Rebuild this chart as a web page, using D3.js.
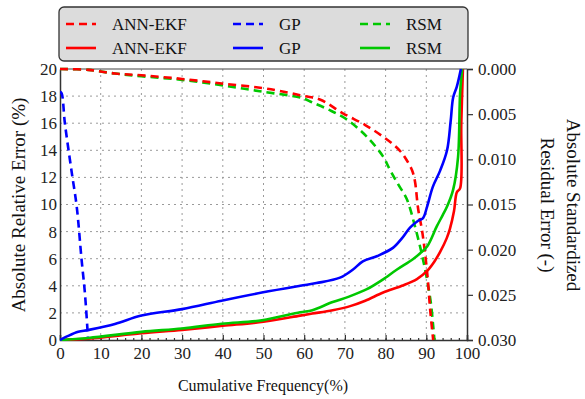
<!DOCTYPE html>
<html><head><meta charset="utf-8">
<script src="https://cdn.jsdelivr.net/npm/d3@7/dist/d3.min.js"></script>
<style>body{margin:0;background:#fff}svg{display:block}text{font-family:"Liberation Serif","Times New Roman",serif}</style>
</head><body><svg id="c" width="585" height="399"></svg>
<script>
// Solid curves: Absolute Relative Error (%) vs cumulative frequency (%)
const annSolidX = [0,7,20,30,40,50,59,62,67,71.3,75,79.4,84,87.7,90.2,92,93.4,95,95.8,96.8,97.5,98.3,98.6,99];
const annSolidY = [0,0.1,0.5,0.75,1.05,1.35,1.8,1.95,2.2,2.5,2.9,3.5,4.0,4.5,5.1,5.8,6.5,7.5,8.2,9.5,10.9,11.2,16,20];
const gpSolidX = [0,2,4.5,7,13.5,20,30,39.7,49.6,59,63,68.8,72,74.4,78,81.8,84,86,88,89.2,90.2,91.6,93.4,95.1,96,96.6,97.5,98.5];
const gpSolidY = [0,0.3,0.6,0.74,1.18,1.8,2.28,2.9,3.5,4.0,4.2,4.6,5.2,5.8,6.2,6.8,7.5,8.3,8.8,9.0,9.85,11.3,12.5,14.0,16.2,17.9,18.7,20];
const rsmSolidX = [0,7,20,30,39.7,49.6,59,62,67,71,75.4,79,82.8,86.7,88.5,90.2,92.6,94,95.1,96.6,97.8,98.3,98.8];
const rsmSolidY = [0,0.15,0.6,0.85,1.2,1.45,2.05,2.2,2.8,3.2,3.75,4.4,5.2,5.96,6.4,6.9,8.4,9.2,9.85,11.1,13.5,18.2,20];
// Dashed curves: Absolute Standardized Residual Error (-) vs cumulative frequency (%)
const annDashX = [0,7,13.5,20,30,39.7,49.6,56,60,64,69.5,75,79.4,82,84,85.2,86.5,87.2,88,89,90.2,91,91.7];
const annDashY = [0,0.0001,0.0005,0.0007,0.0011,0.0016,0.0021,0.0026,0.003,0.0034,0.0049,0.0062,0.0075,0.0084,0.0093,0.0101,0.0112,0.0124,0.0155,0.018,0.0225,0.0269,0.030];
const gpDashX = [0,0.4,1.2,2.9,4.1,5.3,6.1,6.7,6.9];
const gpDashY = [0.0025,0.0027,0.006,0.0115,0.0152,0.0211,0.0247,0.0285,0.030];
const rsmDashX = [0,7,13.5,20,30,39.7,49.6,59.4,62,66,70.5,75.4,79.4,81,83,85.2,87.2,89.2,91,91.7,92];
const rsmDashY = [0,0.0001,0.0005,0.0008,0.0012,0.0018,0.0025,0.0032,0.0037,0.0045,0.0056,0.0075,0.0097,0.0111,0.0127,0.0144,0.0174,0.0211,0.0255,0.0285,0.030];

const xTicks = [0,10,20,30,40,50,60,70,80,90,100];
const yLeftTicks = [0,2,4,6,8,10,12,14,16,18,20];
const yRightTicks = [0,0.005,0.010,0.015,0.020,0.025,0.030];
const names = ["ANN-EKF","GP","RSM"];
const colors = ["#ff0000","#0000ff","#00c800"];

const L=60,R=467,T=69,B=340;
const svg=d3.select("#c");
const x=d3.scaleLinear().domain([0,100]).range([L,R]);
const yl=d3.scaleLinear().domain([0,20]).range([B,T]);
const yr=d3.scaleLinear().domain([0,0.03]).range([T,B]);

// grid
const g=svg.append("g");
xTicks.slice(1,-1).forEach(v=>g.append("line").attr("x1",x(v)).attr("x2",x(v)).attr("y1",T).attr("y2",B).attr("stroke","#9a9a9a").attr("stroke-width",1).attr("stroke-dasharray","2,4"));
yLeftTicks.slice(1,-1).forEach(v=>g.append("line").attr("x1",L).attr("x2",R).attr("y1",yl(v)).attr("y2",yl(v)).attr("stroke","#9a9a9a").attr("stroke-width",1).attr("stroke-dasharray","2,4"));

// axes
const xAxis=d3.axisBottom(x).tickValues(xTicks).tickSize(-5).tickFormat(d3.format("d"));
const xa=svg.append("g").attr("transform",`translate(0,${B})`).call(xAxis);
const xMinor=d3.axisBottom(x).tickValues(d3.range(0,101,2)).tickSize(-2).tickFormat("");
svg.append("g").attr("transform",`translate(0,${B})`).call(xMinor).select(".domain").remove();
const yAxisL=d3.axisLeft(yl).tickValues(yLeftTicks).tickSize(0).tickPadding(3);
const ya=svg.append("g").attr("transform",`translate(${L},0)`).call(yAxisL);
const yAxisR=d3.axisRight(yr).tickValues(yRightTicks).tickSize(6).tickPadding(5).tickFormat(d3.format(".3f"));
const yb=svg.append("g").attr("transform",`translate(${R},0)`).call(yAxisR);
svg.selectAll("g").attr("font-family",null);
svg.selectAll(".domain").attr("stroke","#333").attr("stroke-width",1.5);
svg.selectAll(".tick line").attr("stroke","#333").attr("stroke-width",1.2);
svg.selectAll(".tick text").attr("font-size",17).attr("fill","#222").attr("font-family","Liberation Serif");
xa.selectAll(".tick text").attr("dy","0.95em");
svg.append("line").attr("x1",L).attr("x2",R).attr("y1",T).attr("y2",T).attr("stroke","#444").attr("stroke-width",1.2);

// curves
const solid=[[annSolidX,annSolidY],[gpSolidX,gpSolidY],[rsmSolidX,rsmSolidY]];
const dash=[[annDashX,annDashY],[gpDashX,gpDashY],[rsmDashX,rsmDashY]];
const cv=d3.curveCatmullRom.alpha(0.5);
const lineL=d3.line().x(d=>x(d[0])).y(d=>yl(d[1])).curve(cv);
const lineR=d3.line().x(d=>x(d[0])).y(d=>yr(d[1])).curve(cv);
svg.append("clipPath").attr("id","cp").append("rect").attr("x",L).attr("y",T-2).attr("width",R-L).attr("height",B-T+3);
const cg=svg.append("g").attr("clip-path","url(#cp)");
[2,0,1].forEach(i=>{
  cg.append("path").datum(dash[i][0].map((v,k)=>[v,dash[i][1][k]])).attr("d",lineR).attr("fill","none").attr("stroke",colors[i]).attr("stroke-width",2.6).attr("stroke-dasharray","8,5");
});
[0,2,1].forEach(i=>{
  cg.append("path").datum(solid[i][0].map((v,k)=>[v,solid[i][1][k]])).attr("d",lineL).attr("fill","none").attr("stroke",colors[i]).attr("stroke-width",2.6);
});

// legend
svg.append("rect").attr("x",59).attr("y",7).attr("width",409).attr("height",54).attr("rx",5).attr("fill","#dcdcdc").attr("stroke","#333").attr("stroke-width",1.3);
const lx=[66,233,360];
names.forEach((n,i)=>{
  [24,48].forEach((yy,r)=>{
    svg.append("line").attr("x1",lx[i]).attr("x2",lx[i]+30).attr("y1",yy).attr("y2",yy).attr("stroke",colors[i]).attr("stroke-width",2.6).attr("stroke-dasharray",r===0?"8,5":null);
    svg.append("text").attr("x",lx[i]+46).attr("y",yy+6).attr("font-size",17).attr("fill","#111").text(n);
  });
});

// axis titles
svg.append("text").attr("transform","translate(25,205) rotate(-90)").attr("text-anchor","middle").attr("font-size",19).attr("fill","#111").text("Absolute Relative Error (%)");
svg.append("text").attr("transform","translate(567,205) rotate(90)").attr("text-anchor","middle").attr("font-size",19).attr("fill","#111").text("Absolute Standardized");
svg.append("text").attr("transform","translate(541,205) rotate(90)").attr("text-anchor","middle").attr("font-size",19).attr("fill","#111").text("Residual Error (-)");
svg.append("text").attr("x",263).attr("y",391).attr("text-anchor","middle").attr("font-size",16).attr("fill","#111").text("Cumulative Frequency(%)");
</script></body></html>
